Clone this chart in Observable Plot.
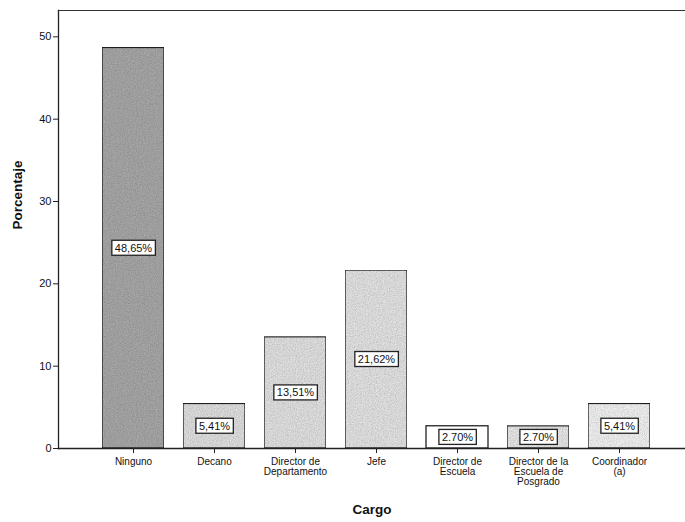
<!DOCTYPE html>
<html><head><meta charset="utf-8">
<script src="https://cdn.jsdelivr.net/npm/d3@7"></script>
<script src="https://cdn.jsdelivr.net/npm/@observablehq/plot@0.6"></script>
<style>body{margin:0;background:#fff}svg{font-family:"Liberation Sans",Arial,sans-serif}</style>
</head><body><div id="chart"></div>
<script>
const categories = ["Ninguno","Decano","Director de\nDepartamento","Jefe","Director de\nEscuela","Director de la\nEscuela de\nPosgrado","Coordinador\n(a)"];
const values = [48.65, 5.41, 13.51, 21.62, 2.70, 2.70, 5.41];
const labels = ["48,65%","5,41%","13,51%","21,62%","2.70%","2.70%","5,41%"];
const fills = ["#aeaeae","#e8e8e8","#eaeaea","#ececec","#ffffff","#f0f0f0","#fbfbfb"];
const yTicks = [0,10,20,30,40,50];

const data = categories.map((c,i)=>({cat:c, v:values[i], label:labels[i], fill:fills[i]}));

const plot = Plot.plot({
  width: 685, height: 522,
  marginLeft: 58, marginRight: 0, marginTop: 10, marginBottom: 74,
  style: {fontFamily: '"Liberation Sans", Arial, sans-serif', fontSize: "10px", color: "#111"},
  x: {domain: categories, range: [58, 694], paddingInner: 0.23, paddingOuter: 0.514, label: null},
  y: {domain: [0, 53.2], label: null},
  marks: [
    Plot.frame({anchor: "top", stroke: "#333"}),
    Plot.barY(data, {x: "cat", y: "v", fill: d => d.fill, stroke: "#222", strokeWidth: 1.3, className: "bars"}),
    Plot.ruleY([0], {stroke: "#222", strokeWidth: 1.3}),
    Plot.frame({anchor: "left", stroke: "#222", strokeWidth: 1.3}),
    Plot.axisY({ticks: yTicks, tickSize: 5, tickPadding: 2, fontSize: 11, label: null, stroke:"#222"}),
    Plot.axisX({tickSize: 5, tickPadding: 4, fontSize: 10, lineHeight: 1.0, label: null, stroke:"#222"}),
    Plot.text(data, {x: "cat", y: d => d.v / 2, text: "label", fontSize: 11, fill: "#111", className: "vlabel"}),
    Plot.text(["Cargo"], {frameAnchor: "bottom", dy: 65, text: d => d, fontWeight: "bold", fontSize: 13.5}),
    Plot.text(["Porcentaje"], {frameAnchor: "left", dx: -41, rotate: -90, text: d => d, fontWeight: "bold", fontSize: 13.5})
  ]
});
document.getElementById("chart").appendChild(plot);

const NS = "http://www.w3.org/2000/svg";
const defs = document.createElementNS(NS, "defs");
defs.innerHTML = `<filter id="grain" x="0" y="0" width="100%" height="100%" filterUnits="objectBoundingBox">
  <feTurbulence type="fractalNoise" baseFrequency="0.85" numOctaves="2" seed="7" result="n"/>
  <feColorMatrix in="n" type="saturate" values="0" result="g"/>
  <feComponentTransfer in="g" result="m">
    <feFuncR type="linear" slope="0.7" intercept="0.45"/>
    <feFuncG type="linear" slope="0.7" intercept="0.45"/>
    <feFuncB type="linear" slope="0.7" intercept="0.45"/>
    <feFuncA type="linear" slope="0" intercept="1"/>
  </feComponentTransfer>
  <feBlend in="SourceGraphic" in2="m" mode="multiply" result="b"/>
  <feComposite in="b" in2="SourceGraphic" operator="in"/>
</filter>`;
plot.insertBefore(defs, plot.firstChild);
d3.select(plot).selectAll("g.bars rect").filter((d, i) => i !== 4).attr("filter", "url(#grain)");

d3.select(plot).selectAll("g.vlabel text").each(function(){
  const b = this.getBBox();
  const r = document.createElementNS(NS, "rect");
  r.setAttribute("x", b.x - 3); r.setAttribute("y", b.y - 1.5);
  r.setAttribute("width", b.width + 6); r.setAttribute("height", b.height + 3);
  r.setAttribute("fill", "#fff"); r.setAttribute("stroke", "#222"); r.setAttribute("stroke-width", 1.3);
  const t = this.getAttribute("transform"); if (t) r.setAttribute("transform", t);
  this.parentNode.insertBefore(r, this);
});
</script></body></html>
